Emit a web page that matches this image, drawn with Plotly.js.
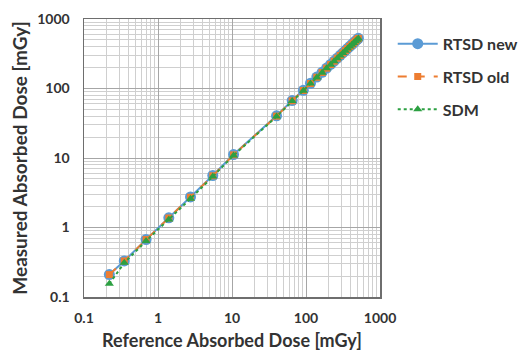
<!DOCTYPE html>
<html>
<head>
<meta charset="utf-8">
<script src="https://cdn.plot.ly/plotly-3.0.1.min.js"></script>
<style>html,body{margin:0;padding:0;background:#fff;}#chart{width:526px;height:352px;}</style>
</head>
<body>
<div id="chart"></div>
<script>
var refDose = [0.22, 0.35, 0.69, 1.4, 2.75, 5.5, 10.5, 40, 65, 92, 115, 140, 165, 190, 215, 240, 265, 290, 315, 340, 365, 390, 415, 440, 465, 490, 510];
var rtsdNew = [0.21, 0.33, 0.67, 1.38, 2.75, 5.6, 11.2, 40.5, 67, 94, 119, 146, 171, 197, 222, 248, 274, 300, 325, 351, 377, 403, 428, 454, 480, 506, 527];
var rtsdOld = [0.21, 0.33, 0.67, 1.37, 2.72, 5.55, 11.1, 40, 66.5, 93.5, 118, 145, 170, 196, 221, 247, 273, 299, 324, 350, 376, 402, 427, 453, 479, 505, 526];
var sdm     = [0.155, 0.31, 0.64, 1.3, 2.6, 5.4, 10.9, 39.5, 66, 93, 118, 144, 169, 195, 220, 246, 272, 298, 323, 349, 375, 401, 426, 452, 478, 504, 525];
var seriesNames = ['RTSD new', 'RTSD old', 'SDM'];
var tickVals = [0.1, 1, 10, 100, 1000];
var tickText = ['0.1', '1', '10', '100', '1000'];

var fontFam = 'Lato, "Open Sans", sans-serif';
var traces = [
  {x: refDose, y: rtsdNew, name: seriesNames[0], mode: 'lines+markers', legendgroup: 'a',
   line: {color: '#5B9BD5', width: 2}, marker: {symbol: 'circle', size: 11, color: '#5B9BD5'}},
  {x: refDose, y: rtsdOld, name: seriesNames[1], mode: 'lines+markers', legendgroup: 'b',
   line: {color: '#ED7D31', width: 2, dash: 'dash'}, marker: {symbol: 'square', size: 7, color: '#ED7D31'}},
  {x: refDose, y: sdm, name: seriesNames[2], mode: 'lines+markers', legendgroup: 'c',
   line: {color: '#2CA042', width: 2, dash: 'dot'}, marker: {symbol: 'triangle-up', size: 8, color: '#2CA042'}}
];

var axisCommon = {
  type: 'log', range: [-1, 3], automargin: false,
  tickvals: tickVals, ticktext: tickText,
  showgrid: true, gridcolor: '#A6A6A6', gridwidth: 1,
  minor: {showgrid: true, gridcolor: '#CFCFCF', gridwidth: 1, dtick: 'D1'},
  showline: true, linecolor: '#6E6E6E', linewidth: 1.5, mirror: true,
  ticks: '', zeroline: false,
  tickfont: {family: fontFam, size: 14, color: '#333333', weight: 'bold'}
};

var layout = {
  width: 526, height: 352,
  margin: {l: 84, r: 146, t: 19, b: 55, autoexpand: false},
  paper_bgcolor: '#fff', plot_bgcolor: '#fff',
  font: {family: fontFam, color: '#333333'},
  xaxis: Object.assign({}, axisCommon, {
    title: {text: 'Reference Absorbed Dose [mGy]', font: {family: fontFam, size: 18, color: '#333333', weight: 'bold'}, standoff: 9},
    ticklabelstandoff: 8
  }),
  yaxis: Object.assign({}, axisCommon, {
    title: {text: 'Measured Absorbed Dose [mGy]', font: {family: fontFam, size: 19, color: '#333333', weight: 'bold'}, standoff: 4},
    ticklabelstandoff: 10
  }),
  showlegend: true,
  legend: {
    x: 1.043, xanchor: 'left', y: 0.972, yanchor: 'top',
    font: {family: fontFam, size: 16, color: '#333333', weight: 'bold'},
    itemwidth: 40, traceorder: 'grouped', tracegroupgap: 9,
    bgcolor: 'rgba(0,0,0,0)'
  }
};

Plotly.newPlot('chart', traces, layout, {displayModeBar: false, staticPlot: true});
</script>
</body>
</html>
